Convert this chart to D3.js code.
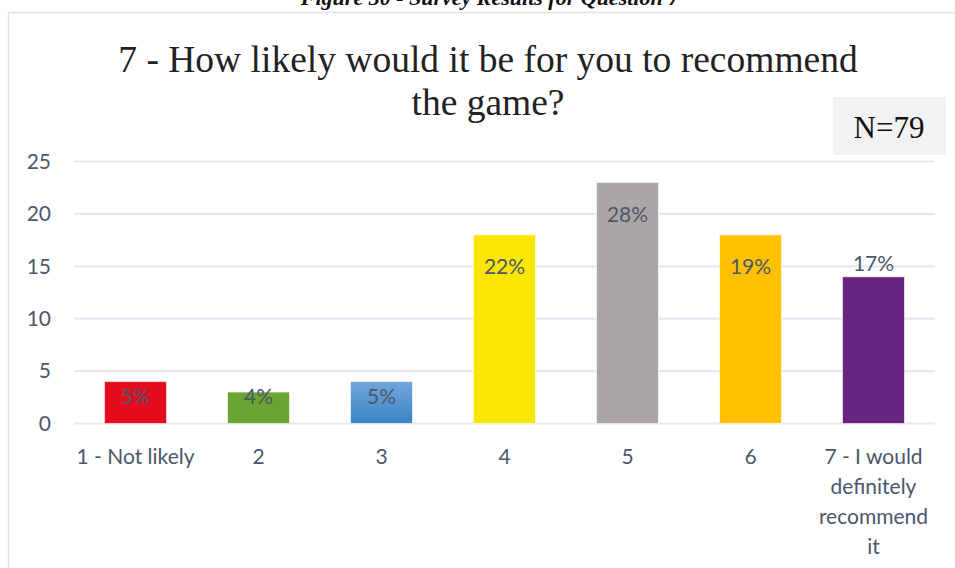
<!DOCTYPE html>
<html><head><meta charset="utf-8">
<script src="https://cdn.jsdelivr.net/npm/d3@7"></script>
<style>html,body{margin:0;padding:0;background:#fff;}svg{display:block;}</style>
</head><body>
<svg id="c" width="955" height="568"></svg>
<script>
const categories = ["1 - Not likely", "2", "3", "4", "5", "6", "7 - I would definitely recommend it"];
const categoryLines = [["1 - Not likely"], ["2"], ["3"], ["4"], ["5"], ["6"], ["7 - I would", "definitely", "recommend", "it"]];
const counts = [4, 3, 4, 18, 23, 18, 14];
const percentLabels = ["5%", "4%", "5%", "22%", "28%", "19%", "17%"];
const labelAt = [2.6, 2.6, 2.6, 15, 19.9, 15, 15.3];
const barColors = ["#E30B1C", "#6AA531", "url(#blueGrad)", "#FAE600", "#ABA6A5", "#FFC000", "#68257F"];
const yTicks = [0, 5, 10, 15, 20, 25];
const titleLines = ["7 - How likely would it be for you to recommend", "the game?"];
const caption = "Figure 30 - Survey Results for Question 7";
const nLabel = "N=79";

const svg = d3.select("#c");
const defs = svg.append("defs");
const g1 = defs.append("linearGradient").attr("id","blueGrad").attr("x1",0).attr("y1",0).attr("x2",0).attr("y2",1);
g1.append("stop").attr("offset","0%").attr("stop-color","#72a6db");
g1.append("stop").attr("offset","100%").attr("stop-color","#3a84c6");

// caption (cut off at top, as in the source)
svg.append("text").attr("x", 490).attr("y", 5).attr("text-anchor","middle")
  .attr("font-family","Liberation Serif").attr("font-weight","bold").attr("font-style","italic")
  .attr("font-size", 22).attr("fill","#111").text(caption);

// chart frame
svg.append("rect").attr("x", 8.5).attr("y", 12.5).attr("width", 960).attr("height", 600)
  .attr("fill","none").attr("stroke","#dfe4ec").attr("stroke-width",1.5);

// title
titleLines.forEach((t,i)=>{
  svg.append("text").attr("x", 488).attr("y", 72 + i*43).attr("text-anchor","middle")
    .attr("font-family","Liberation Serif").attr("font-size", 37.5).attr("fill","#222").text(t);
});

// N box
svg.append("rect").attr("x", 833).attr("y", 97).attr("width", 113).attr("height", 58).attr("fill","#f2f2f2");
svg.append("text").attr("x", 889).attr("y", 138).attr("text-anchor","middle")
  .attr("font-family","Liberation Serif").attr("font-size", 31).attr("fill","#111").text(nLabel);

const x = d3.scaleBand().domain(categories).range([74, 935]).paddingInner(0.496).paddingOuter(0.248);
const y = d3.scaleLinear().domain([0, 25]).range([423.5, 161.5]);

const font = "Lato, 'Open Sans', sans-serif";
const textColor = "#4b576b";
const fs = 21;

// gridlines
svg.append("g").selectAll("line").data(yTicks).join("line")
  .attr("x1", 74).attr("x2", 935).attr("y1", d=>y(d)).attr("y2", d=>y(d))
  .attr("stroke","#e6e9f1").attr("stroke-width",2.2);

// y axis labels
const yAxis = d3.axisLeft(y).tickValues(yTicks).tickSize(0).tickPadding(0);
const ya = svg.append("g").attr("transform","translate(51,0)").call(yAxis);
ya.select(".domain").remove();
ya.selectAll("text").attr("font-family", font).attr("font-size", fs).attr("fill", textColor);

// bars
svg.append("g").selectAll("rect").data(counts).join("rect")
  .attr("x", (d,i)=>x(categories[i])).attr("width", x.bandwidth())
  .attr("y", d=>y(d)).attr("height", d=>y(0)-y(d))
  .attr("fill", (d,i)=>barColors[i]).attr("stroke","rgba(255,255,255,0.6)").attr("stroke-width",1);

// value labels
svg.append("g").selectAll("text").data(percentLabels).join("text")
  .attr("x", (d,i)=>x(categories[i]) + x.bandwidth()/2)
  .attr("y", (d,i)=>y(labelAt[i])).attr("dy","0.35em").attr("text-anchor","middle")
  .attr("font-family", font).attr("font-size", fs).attr("fill", textColor).text(d=>d);

// x axis labels
const xg = svg.append("g");
categoryLines.forEach((lines,i)=>{
  lines.forEach((ln,j)=>{
    xg.append("text").attr("x", x(categories[i]) + x.bandwidth()/2).attr("y", 464 + j*30)
      .attr("text-anchor","middle").attr("font-family", font).attr("font-size", fs)
      .attr("fill", textColor).text(ln);
  });
});
</script>
</body></html>
